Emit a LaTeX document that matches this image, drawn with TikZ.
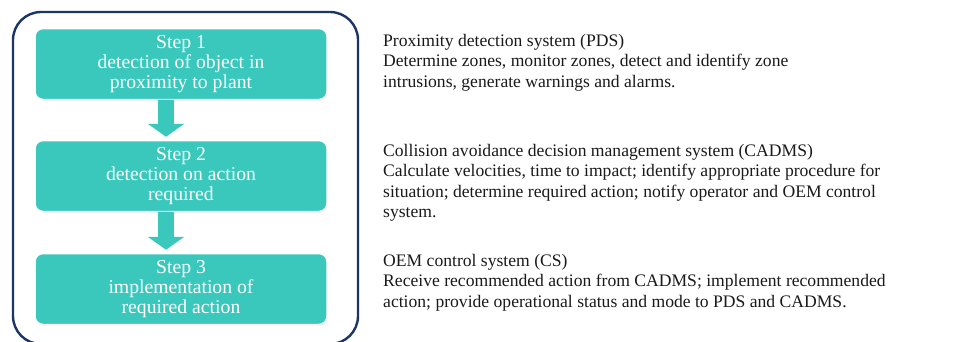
\documentclass[tikz,border=0pt]{standalone}
\usepackage{fontspec}
\setmainfont{Liberation Serif}
\usepackage{tikz}
\usetikzlibrary{
  arrows.meta,
  positioning,
  shadows
}
\definecolor{pdTeal}{HTML}{3AC8BD}
\definecolor{pdFrame}{HTML}{1B3566}
\definecolor{pdText}{HTML}{1A1A1A}
\tikzset{
  stepbox/.style={
    draw=white, line width=1.5pt, rounded corners=8pt, fill=pdTeal,
    minimum width=292pt, minimum height=71pt, inner sep=0pt,
    text=white, align=center, font=\fontsize{19.7}{20.2}\selectfont,
    drop shadow={shadow xshift=0.6pt, shadow yshift=-0.8pt, opacity=0.35, fill=black!40}
  },
  frame/.style={draw=pdFrame, line width=2.4pt, rounded corners=28pt},
  stepflow/.style={line width=16pt, pdTeal, -{Triangle[length=13pt, width=36pt]}},
  descr/.style={anchor=north west, align=left, inner sep=0pt, text=pdText,
    font=\fontsize{17.6}{20.5}\selectfont}
}
\begin{document}
\begin{tikzpicture}[x=1pt, y=-1pt]
  \useasboundingbox (0,0) rectangle (958,341);
  \fill[white] (0,0) rectangle (958,341);
  % outer frame of the three steps
  \draw[frame] (13,12) rectangle (358,344);
  \node[stepbox] (s1) at (181,64) {Step 1\\detection of object in\\proximity to plant};
  \node[stepbox] (s2) at (181,176) {Step 2\\detection on action\\required};
  \node[stepbox] (s3) at (181,289) {Step 3\\implementation of\\required action};
  \draw[stepflow] ([xshift=-15pt]s1.south) -- ([xshift=-15pt,yshift=3pt]s2.north);
  \draw[stepflow] ([xshift=-15pt]s2.south) -- ([xshift=-15pt,yshift=3pt]s3.north);
  % descriptions
  \node[descr] (pds) at (383,34) {Proximity detection system (PDS)\\
    Determine zones, monitor zones, detect and identify zone\\
    intrusions, generate warnings and alarms.};
  \node[descr] (cadms) at (383,144) {Collision avoidance decision management system (CADMS)\\
    Calculate velocities, time to impact; identify appropriate procedure for\\
    situation; determine required action; notify operator and OEM control\\
    system.};
  \node[descr] (cs) at (383,254) {OEM control system (CS)\\
    Receive recommended action from CADMS; implement recommended\\
    action; provide operational status and mode to PDS and CADMS.};
\end{tikzpicture}
\end{document}
